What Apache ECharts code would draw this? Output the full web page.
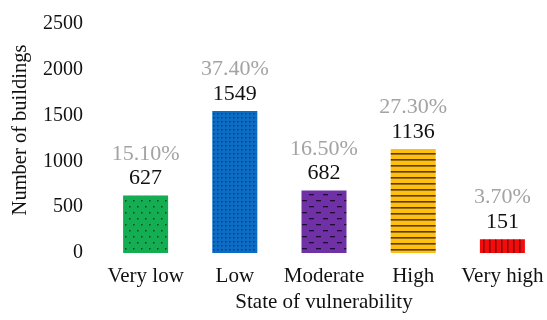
<!DOCTYPE html>
<html>
<head>
<meta charset="utf-8">
<script src="https://cdn.jsdelivr.net/npm/echarts@6/dist/echarts.min.js"></script>
<style>
  html, body { margin: 0; padding: 0; background: #ffffff; }
  #chart { width: 547px; height: 320px; }
</style>
</head>
<body>
<div id="chart"></div>
<script>
// Buildings per vulnerability class
const categories = ['Very low', 'Low', 'Moderate', 'High', 'Very high'];
const buildingCounts = [627, 1549, 682, 1136, 151];
const shareLabels = ['15.10%', '37.40%', '16.50%', '27.30%', '3.70%'];
const yTicks = [0, 500, 1000, 1500, 2000, 2500];

const FONT = '"Liberation Serif", "Times New Roman", serif';

// Small tiled canvases used as bar fills
function makePattern(w, h, base, draw) {
  const c = document.createElement('canvas');
  c.width = w; c.height = h;
  const g = c.getContext('2d');
  g.fillStyle = base;
  g.fillRect(0, 0, w, h);
  draw(g);
  return { image: c, repeat: 'repeat' };
}

const fills = [
  // sparse dots on green
  makePattern(8, 12, '#14ae52', g => {
    g.fillStyle = '#1b3f25';
    g.fillRect(1, 2, 1.5, 1.5);
    g.fillRect(5, 8, 1.5, 1.5);
  }),
  // dense dots on blue
  makePattern(4, 4, '#0b6cc6', g => {
    g.fillStyle = '#123c78';
    g.fillRect(1, 1, 1.5, 1.5);
  }),
  // short dashes on purple
  makePattern(14, 12, '#7131a6', g => {
    g.fillStyle = '#1e0d36';
    g.fillRect(1, 2, 5, 1.3);
    g.fillRect(8, 8, 5, 1.3);
  }),
  // horizontal lines on gold
  makePattern(8, 6.5, '#fdbf10', g => {
    g.fillStyle = '#5b3b17';
    g.fillRect(0, 3, 8, 1.6);
  }),
  // vertical lines on red
  makePattern(6.5, 8, '#f40c0c', g => {
    g.fillStyle = '#6e0a0a';
    g.fillRect(3, 0, 1.5, 8);
  })
];

const chart = echarts.init(document.getElementById('chart'), null, { renderer: 'canvas' });

chart.setOption({
  backgroundColor: '#ffffff',
  animation: false,
  grid: { left: 101, width: 448, top: 24, bottom: 67 },
  xAxis: {
    type: 'category',
    data: categories,
    axisLine: { show: false },
    axisTick: { show: false },
    axisLabel: { color: '#111', fontFamily: FONT, fontSize: 21, margin: 13, interval: 0 },
    name: 'State of vulnerability',
    nameLocation: 'middle',
    nameGap: 32,
    nameTextStyle: { color: '#111', fontFamily: FONT, fontSize: 21 }
  },
  yAxis: {
    type: 'value',
    min: yTicks[0],
    max: yTicks[yTicks.length - 1],
    interval: yTicks[1] - yTicks[0],
    axisLine: { show: false },
    axisTick: { show: false },
    splitLine: { show: false },
    axisLabel: {
      color: '#111', fontFamily: FONT, fontSize: 20, margin: 18,
      formatter: v => String(v)
    }
  },
  graphic: [{
    type: 'text',
    x: 21,
    y: 130,
    rotation: Math.PI / 2,
    style: {
      text: 'Number of buildings',
      fill: '#111',
      font: '20.5px ' + FONT,
      textAlign: 'center',
      textVerticalAlign: 'middle'
    }
  }],
  series: [{
    type: 'bar',
    barWidth: 45,
    data: buildingCounts.map((v, i) => ({
      value: v,
      itemStyle: { color: fills[i] },
      label: { formatter: '{p|' + shareLabels[i] + '}\n{v|' + v + '}' }
    })),
    label: {
      show: true,
      position: 'top',
      distance: 5,
      rich: {
        p: { color: '#a3a3a3', fontFamily: FONT, fontSize: 22, lineHeight: 25, align: 'center' },
        v: { color: '#111', fontFamily: FONT, fontSize: 22, lineHeight: 24, align: 'center' }
      }
    }
  }]
});
</script>
</body>
</html>
